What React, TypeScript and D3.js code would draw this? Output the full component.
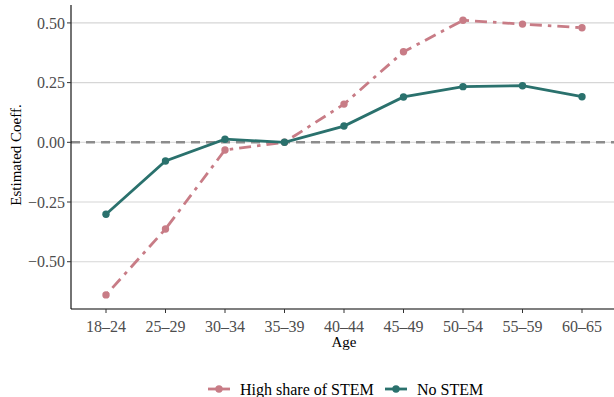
import React from "react";
import * as d3 from "d3";

const categories = ["18–24", "25–29", "30–34", "35–39", "40–44", "45–49", "50–54", "55–59", "60–65"];
const highStem = [-0.639, -0.363, -0.032, 0, 0.16, 0.379, 0.511, 0.495, 0.48];
const noStem = [-0.301, -0.078, 0.013, 0, 0.068, 0.19, 0.233, 0.237, 0.191];
const yTicks = [-0.5, -0.25, 0, 0.25, 0.5];
const seriesNames = ["High share of STEM", "No STEM"];

const W = 614;
const H = 397;
const FONT = "'Liberation Serif', 'DejaVu Serif', serif";
const PINK = "#c87c86";
const TEAL = "#2a716d";
const DOTDASH = "3.5 6 12 6";

export default function App() {
  const left = 71;
  const top = 5;
  const bottom = 309;
  const right = 614;
  const x = d3.scalePoint<string>().domain(categories).range([106, 582]);
  const y = d3.scaleLinear().domain([-0.698, 0.575]).range([bottom, top]);
  const line = d3
    .line<number>()
    .x((_, i) => x(categories[i]) as number)
    .y((d) => y(d));
  const fmt = (v: number) => (v < 0 ? "−" : "") + d3.format(".2f")(Math.abs(v));

  const series = [
    { name: seriesNames[0], vals: highStem, color: PINK, dash: DOTDASH },
    { name: seriesNames[1], vals: noStem, color: TEAL, dash: undefined as string | undefined },
  ];

  return (
    <svg
      width={W}
      height={H}
      style={{ position: "absolute", left: 0, top: 0, background: "#fff" }}
      fontFamily={FONT}
    >
      {yTicks.map((t) => (
        <line key={"g" + t} x1={left} x2={right} y1={y(t)} y2={y(t)} stroke="#d6d6d6" strokeWidth={1.1} />
      ))}
      <line x1={left} x2={right} y1={y(0)} y2={y(0)} stroke="#8c8c8c" strokeWidth={2.4} strokeDasharray="9 6" />
      {series.map((s) => (
        <g key={s.name}>
          <path d={line(s.vals) || ""} fill="none" stroke={s.color} strokeWidth={2.8} strokeDasharray={s.dash} />
          {s.vals.map((v, i) => (
            <circle key={i} cx={x(categories[i])} cy={y(v)} r={3.7} fill={s.color} />
          ))}
        </g>
      ))}
      {/* axes */}
      <line x1={left} x2={left} y1={top} y2={bottom} stroke="#000" strokeWidth={1.1} />
      <line x1={left} x2={right} y1={bottom} y2={bottom} stroke="#000" strokeWidth={1.1} />
      {yTicks.map((t) => (
        <g key={"t" + t}>
          <line x1={left - 4} x2={left} y1={y(t)} y2={y(t)} stroke="#333" strokeWidth={1} />
          <text x={left - 6} y={y(t)} dy="0.35em" textAnchor="end" fontSize={16} fill="#4d4d4d">
            {fmt(t)}
          </text>
        </g>
      ))}
      {categories.map((c) => (
        <g key={c}>
          <line x1={x(c)} x2={x(c)} y1={bottom} y2={bottom + 4} stroke="#333" strokeWidth={1} />
          <text x={x(c)} y={332} textAnchor="middle" fontSize={16} fill="#4d4d4d">
            {c}
          </text>
        </g>
      ))}
      <text x={(106 + 582) / 2} y={347} textAnchor="middle" fontSize={15} fill="#000">
        Age
      </text>
      <text transform={`translate(21,155) rotate(-90)`} textAnchor="middle" fontSize={15} fill="#000">
        Estimated Coeff.
      </text>
      {/* legend */}
      <g>
        <line x1={208} x2={230} y1={389} y2={389} stroke={PINK} strokeWidth={2.8} />
        <circle cx={219} cy={389} r={3.7} fill={PINK} />
        <text x={240} y={395} fontSize={16} fill="#000">
          {seriesNames[0]}
        </text>
        <line x1={385} x2={407} y1={389} y2={389} stroke={TEAL} strokeWidth={2.8} />
        <circle cx={396} cy={389} r={3.7} fill={TEAL} />
        <text x={417} y={395} fontSize={16} fill="#000">
          {seriesNames[1]}
        </text>
      </g>
    </svg>
  );
}
